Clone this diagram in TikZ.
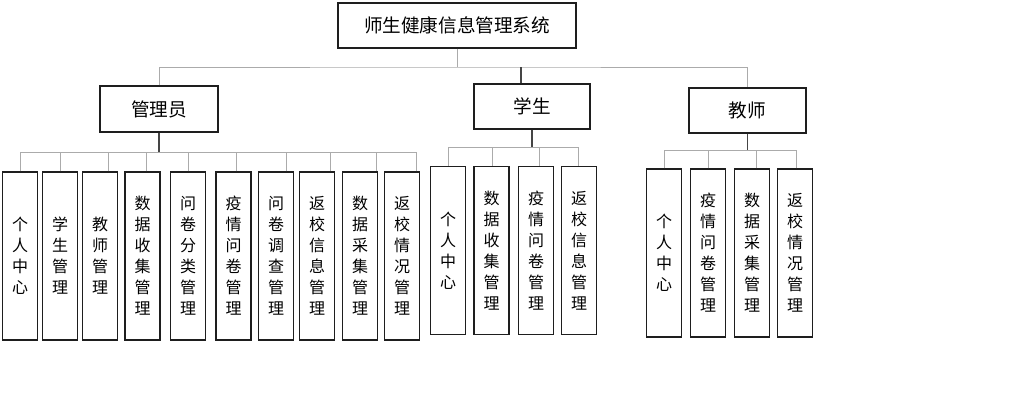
\documentclass[tikz,border=0pt]{standalone}
\usepackage{fontspec}
\setmainfont{Noto Sans CJK SC}
\usepackage{xcolor}
\usepackage{tikz}
\definecolor{ink}{HTML}{1E1E1E}
\definecolor{trunk}{HTML}{454545}
\definecolor{wire}{HTML}{ABABAB}
\tikzset{
  unit/.style={draw=ink,line width=0.6pt,inner sep=0pt,font=\fontsize{9.3}{11}\selectfont},
  leaf/.style={draw=ink,line width=0.6pt,inner sep=0pt,align=center,
    minimum width=17.5pt,minimum height=84pt,font=\fontsize{8}{10.5}\selectfont},
  link/.style={draw=wire,line width=0.5pt},
  trunkline/.style={draw=trunk,line width=0.6pt}
}

\begin{document}
\begin{tikzpicture}[x=0.5pt,y=-0.5pt]
\useasboundingbox (0,0) rectangle (1011,409);
\node[unit,minimum width=119pt,minimum height=22.5pt] (sys) at (457,25.5) {师生健康信息管理系统};
\node[unit,minimum width=59pt,minimum height=23pt] (adm) at (159,109) {管理员};
\node[unit,minimum width=58pt,minimum height=22.5pt] (stu) at (532,106.5) {学生};
\node[unit,minimum width=58.5pt,minimum height=22.5pt] (tea) at (747.5,110.5) {教师};

\coordinate (top) at (457,67);
\draw[link] (sys.south) -- (top);
\draw[link] (adm.north) |- (top) -| (tea.north);
\draw[trunkline] ([xshift=-5.5pt]stu.north) -- ([xshift=-5.5pt]stu.north |- top);

\coordinate (admbus) at (159,152);
\coordinate (stubus) at (532,147);
\coordinate (teabus) at (747.5,150);
\draw[trunkline] (adm.south) -- (admbus);
\draw[trunkline] (stu.south) -- (stubus);
\draw[trunkline] (tea.south) -- (teabus);

\foreach \n/\x/\d/\lab in {%
  a1/20/0/{个\\人\\中\\心}, a2/60/0/{学\\生\\管\\理}, a3/100/4/{教\\师\\管\\理},
  a4/142.5/1.75/{数\\据\\收\\集\\管\\理}, a5/188/0/{问\\卷\\分\\类\\管\\理},
  a6/233.5/1.25/{疫\\情\\问\\卷\\管\\理}, a7/276/5/{问\\卷\\调\\查\\管\\理},
  a8/317/6.5/{返\\校\\信\\息\\管\\理}, a9/360/8/{数\\据\\采\\集\\管\\理},
  a10/402/7/{返\\校\\情\\况\\管\\理}}{
  \node[leaf] (\n) at (\x,256) {\lab};
  \draw[link] ([xshift=\d pt]\n.north) |- (admbus);
}
\foreach \n/\x/\d/\lab in {%
  s1/448/0/{个\\人\\中\\心}, s2/491.5/0.25/{数\\据\\收\\集\\管\\理},
  s3/536/1.5/{疫\\情\\问\\卷\\管\\理}, s4/579/-0.5/{返\\校\\信\\息\\管\\理}}{
  \node[leaf] (\n) at (\x,250.5) {\lab};
  \draw[link] ([xshift=\d pt]\n.north) |- (stubus);
}
\foreach \n/\x/\d/\lab in {%
  t1/664/0/{个\\人\\中\\心}, t2/708/0/{疫\\情\\问\\卷\\管\\理},
  t3/752/2/{数\\据\\采\\集\\管\\理}, t4/795/0.5/{返\\校\\情\\况\\管\\理}}{
  \node[leaf] (\n) at (\x,253) {\lab};
  \draw[link] ([xshift=\d pt]\n.north) |- (teabus);
}
\end{tikzpicture}
\end{document}
